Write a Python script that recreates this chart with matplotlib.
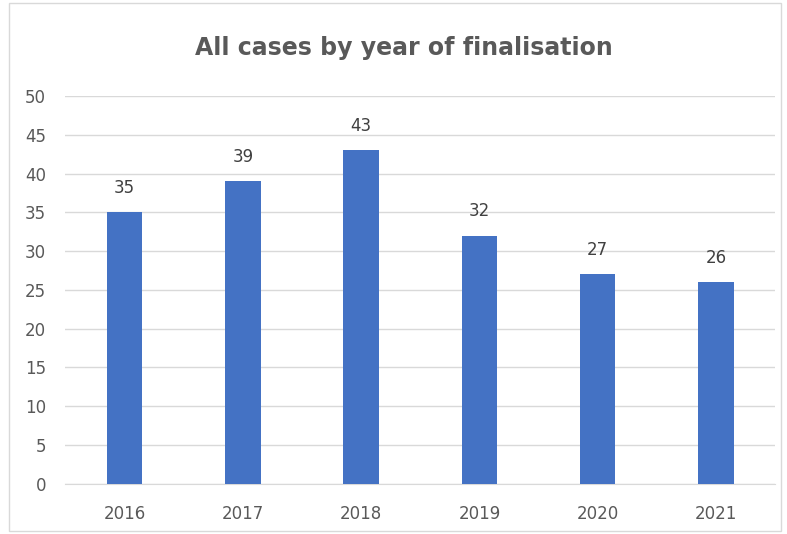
import matplotlib.pyplot as plt

years = ['2016', '2017', '2018', '2019', '2020', '2021']
cases = [35, 39, 43, 32, 27, 26]

fig = plt.figure(figsize=(7.87, 5.34), dpi=100)
ax = fig.add_axes([0.083, 0.094, 0.902, 0.726])

bars = ax.bar(range(len(years)), cases, width=0.3, color='#4472C4', zorder=3)
ax.bar_label(bars, padding=11, fontsize=12, color='#404040')

ax.set_xlim(-0.5, len(years) - 0.5)
ax.set_ylim(0, 50)
ax.set_yticks(range(0, 51, 5))
ax.set_xticks(range(len(years)))
ax.set_xticklabels(years)
ax.tick_params(axis='both', length=0, labelsize=12, labelcolor='#595959')
ax.tick_params(axis='y', pad=14)
ax.tick_params(axis='x', pad=15)
ax.grid(True, axis='y', color='#D9D9D9', linewidth=1, zorder=0)
for s in ['top', 'right', 'left']:
    ax.spines[s].set_visible(False)
ax.spines['bottom'].set_color('#D9D9D9')

fig.text(0.513, 0.91, 'All cases by year of finalisation', ha='center', va='center',
         fontsize=17, fontweight='bold', color='#595959')

# light frame round the chart
fig.patches.append(plt.Rectangle((0.012, 0.005), 0.98, 0.99, transform=fig.transFigure,
                                 fill=False, edgecolor='#D9D9D9', linewidth=1))

fig.savefig('out.png', dpi=100)
